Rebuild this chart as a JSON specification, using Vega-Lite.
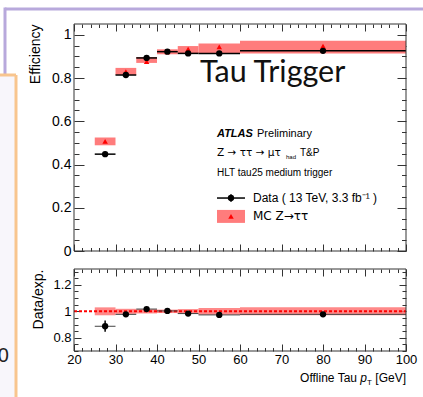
{
"$schema": "https://vega.github.io/schema/vega-lite/v6.json",
"width": 332,
"height": 327,
"autosize": "none",
"padding": {"left": 74, "top": 24, "right": 17, "bottom": 46},
"background": "#ffffff",
"datasets": {
 "bins": [
  {"lo":25,"hi":30,"x":27.5,"eff":0.448,"eff_lo":0.437,"eff_hi":0.459,"mc":0.507,"mc_lo":0.489,"mc_hi":0.525,"ratio":0.887,"r_lo":0.845,"r_hi":0.93,"band_lo":0.97,"band_hi":1.03},
  {"lo":30,"hi":35,"x":32.5,"eff":0.814,"eff_lo":0.807,"eff_hi":0.821,"mc":0.83,"mc_lo":0.814,"mc_hi":0.847,"ratio":0.977,"r_lo":0.967,"r_hi":0.987,"band_lo":0.981,"band_hi":1.019},
  {"lo":35,"hi":40,"x":37.5,"eff":0.893,"eff_lo":0.887,"eff_hi":0.899,"mc":0.876,"mc_lo":0.87,"mc_hi":0.897,"ratio":1.017,"r_lo":1.008,"r_hi":1.026,"band_lo":0.984,"band_hi":1.016},
  {"lo":40,"hi":45,"x":42.5,"eff":0.922,"eff_lo":0.917,"eff_hi":0.927,"mc":0.921,"mc_lo":0.91,"mc_hi":0.933,"ratio":1.003,"r_lo":0.995,"r_hi":1.011,"band_lo":0.987,"band_hi":1.013},
  {"lo":45,"hi":50,"x":47.5,"eff":0.914,"eff_lo":0.909,"eff_hi":0.919,"mc":0.934,"mc_lo":0.914,"mc_hi":0.948,"ratio":0.983,"r_lo":0.975,"r_hi":0.991,"band_lo":0.983,"band_hi":1.017},
  {"lo":50,"hi":60,"x":55,"eff":0.914,"eff_lo":0.91,"eff_hi":0.918,"mc":0.944,"mc_lo":0.914,"mc_hi":0.96,"ratio":0.973,"r_lo":0.967,"r_hi":0.979,"band_lo":0.975,"band_hi":1.025},
  {"lo":60,"hi":100,"x":80,"eff":0.926,"eff_lo":0.922,"eff_hi":0.93,"mc":0.948,"mc_lo":0.914,"mc_hi":0.973,"ratio":0.977,"r_lo":0.972,"r_hi":0.982,"band_lo":0.97,"band_hi":1.03}
 ]
},
"config": {
 "view": {"stroke": null},
 "font": "Liberation Sans",
 "axis": {"grid": false, "domain": false, "labelColor": "#000000", "titleColor": "#000000", "titleFontWeight": "normal", "tickColor": "#333333", "tickWidth": 1, "labelFont": "Liberation Sans", "titleFont": "Liberation Sans", "labelOverlap": false, "labelFlush": false, "labelBound": false}
},
"resolve": {"scale": {"y": "independent"}, "axis": {"x": "independent", "y": "independent"}},
"layer": [
 {
  "resolve": {"axis": {"x": "independent", "y": "independent"}},
  "layer": [
   {"data": {"values": [{}]}, "mark": {"type": "rect", "color": "#f8f6fb"},
    "encoding": {"x": {"datum": 1.687, "axis": null}, "x2": {"datum": 6.024}, "y": {"datum": 0.8141, "axis": null}, "y2": {"datum": -0.6892}}},
   {"data": {"values": [{}]}, "mark": {"type": "rule", "color": "#b8a9dc", "strokeWidth": 3},
    "encoding": {"x": {"datum": 3.373, "axis": null}, "x2": {"datum": 104.58}, "y": {"datum": 1.1194, "axis": null}}},
   {"data": {"values": [{}]}, "mark": {"type": "rule", "color": "#b8a9dc", "strokeWidth": 3},
    "encoding": {"x": {"datum": 3.373, "axis": null}, "y": {"datum": 1.1263, "axis": null}, "y2": {"datum": 0.8141}}},
   {"data": {"values": [{}]}, "mark": {"type": "rule", "color": "#f8c58e", "strokeWidth": 3},
    "encoding": {"x": {"datum": 1.687, "axis": null}, "x2": {"datum": 6.024}, "y": {"datum": 0.8141, "axis": null}}},
   {"data": {"values": [{}]}, "mark": {"type": "rule", "color": "#f8c58e", "strokeWidth": 3},
    "encoding": {"x": {"datum": 6.024, "axis": null}, "y": {"datum": 0.8141, "axis": null}, "y2": {"datum": -0.6892}}},
   {"data": {"values": [{}]}, "mark": {"type": "text", "text": "0", "align": "right", "baseline": "middle", "fontSize": 20, "font": "Liberation Sans", "color": "#222222"},
    "encoding": {"x": {"datum": 4.337, "axis": null}, "y": {"datum": -0.4857, "axis": null}}},
   {"data": {"name": "bins"}, "mark": {"type": "rect", "color": "#ff7c7c"},
    "encoding": {
     "x": {"field": "lo", "type": "quantitative", "scale": {"domain": [20, 100], "nice": false, "zero": false},
       "axis": {"orient": "bottom", "offset": -100, "labels": false, "title": null, "values": [20,22,24,26,28,30,32,34,36,38,40,42,44,46,48,50,52,54,56,58,60,62,64,66,68,70,72,74,76,78,80,82,84,86,88,90,92,94,96,98,100], "tickSize": {"condition": {"test": "datum.value % 10 === 0", "value": -7}, "value": -3.5}}},
     "x2": {"field": "hi"},
     "y": {"field": "mc_lo", "type": "quantitative", "scale": {"domain": [0, 1.05], "nice": false, "zero": false, "range": [227, 0]},
       "axis": {"orient": "left", "ticks": false, "values": [0, 0.2, 0.4, 0.6, 0.8, 1], "format": ".1~f", "labelFontSize": 14, "labelPadding": 3, "title": "Efficiency", "titleAnchor": "end", "titleFontSize": 14, "titlePadding": 9}},
     "y2": {"field": "mc_hi"}
    }},
   {"data": {"name": "bins"}, "mark": {"type": "point", "shape": "triangle-up", "filled": true, "color": "#ff0000", "size": 30, "opacity": 1},
    "encoding": {
     "x": {"field": "x", "type": "quantitative",
       "axis": {"orient": "top", "labels": false, "title": null, "values": [20,22,24,26,28,30,32,34,36,38,40,42,44,46,48,50,52,54,56,58,60,62,64,66,68,70,72,74,76,78,80,82,84,86,88,90,92,94,96,98,100], "tickSize": {"condition": {"test": "datum.value % 10 === 0", "value": -7}, "value": -3.5}}},
     "y": {"field": "mc", "type": "quantitative",
       "axis": {"orient": "left", "labels": false, "title": null, "values": [0,0.05,0.1,0.15,0.2,0.25,0.3,0.35,0.4,0.45,0.5,0.55,0.6,0.65,0.7,0.75,0.8,0.85,0.9,0.95,1], "tickSize": {"condition": {"test": "abs(datum.value * 5 - round(datum.value * 5)) < 0.001", "value": -10}, "value": -5}}}
    }},
   {"data": {"name": "bins"}, "mark": {"type": "rule", "color": "#000000", "strokeWidth": 1.5},
    "encoding": {
     "x": {"field": "lo", "type": "quantitative", "axis": null},
     "x2": {"field": "hi"},
     "y": {"field": "eff", "type": "quantitative",
       "axis": {"orient": "right", "labels": false, "title": null, "values": [0,0.05,0.1,0.15,0.2,0.25,0.3,0.35,0.4,0.45,0.5,0.55,0.6,0.65,0.7,0.75,0.8,0.85,0.9,0.95,1], "tickSize": {"condition": {"test": "abs(datum.value * 5 - round(datum.value * 5)) < 0.001", "value": -9}, "value": -4.5}}}
    }},
   {"data": {"name": "bins"}, "mark": {"type": "rule", "color": "#000000", "strokeWidth": 1.5},
    "encoding": {
     "x": {"field": "x", "type": "quantitative", "axis": null},
     "y": {"field": "eff_lo", "type": "quantitative", "axis": null},
     "y2": {"field": "eff_hi"}
    }},
   {"data": {"name": "bins"}, "mark": {"type": "point", "shape": "circle", "filled": true, "color": "#000000", "size": 40, "opacity": 1},
    "encoding": {
     "x": {"field": "x", "type": "quantitative", "axis": null},
     "y": {"field": "eff", "type": "quantitative", "axis": null}
    }},
   {"data": {"values": [{}]}, "mark": {"type": "rect", "filled": false, "color": "#333333", "strokeWidth": 1},
    "encoding": {"x": {"datum": 20, "axis": null}, "x2": {"datum": 100}, "y": {"datum": 0, "axis": null}, "y2": {"datum": 1.05}}},
   {"data": {"values": [{}]}, "mark": {"type": "rule", "color": "#000000", "strokeWidth": 1.5},
    "encoding": {"x": {"datum": 54.46, "axis": null}, "x2": {"datum": 61.2}, "y": {"datum": 0.245, "axis": null}}},
   {"data": {"values": [{}]}, "mark": {"type": "rule", "color": "#000000", "strokeWidth": 1.5},
    "encoding": {"x": {"datum": 57.83, "axis": null}, "y": {"datum": 0.228, "axis": null}, "y2": {"datum": 0.262}}},
   {"data": {"values": [{}]}, "mark": {"type": "point", "shape": "circle", "filled": true, "color": "#000000", "size": 40, "opacity": 1},
    "encoding": {"x": {"datum": 57.83, "axis": null}, "y": {"datum": 0.245, "axis": null}}},
   {"data": {"values": [{}]}, "mark": {"type": "rect", "color": "#ff7c7c"},
    "encoding": {"x": {"datum": 54.46, "axis": null}, "x2": {"datum": 61.2}, "y": {"datum": 0.13, "axis": null}, "y2": {"datum": 0.19}}},
   {"data": {"values": [{}]}, "mark": {"type": "point", "shape": "triangle-up", "filled": true, "color": "#ff0000", "size": 30, "opacity": 1},
    "encoding": {"x": {"datum": 57.83, "axis": null}, "y": {"datum": 0.16, "axis": null}}},
   {"data": {"values": [{}]}, "mark": {"type": "text", "text": "Data ( 13 TeV, 3.3 fb⁻¹ )", "align": "left", "baseline": "middle", "fontSize": 12, "font": "Liberation Sans", "color": "#000000"},
    "encoding": {"x": {"datum": 63.13, "axis": null}, "y": {"datum": 0.245, "axis": null}}},
   {"data": {"values": [{}]}, "mark": {"type": "text", "text": "MC Z→ττ", "align": "left", "baseline": "middle", "fontSize": 12, "font": "DejaVu Sans", "color": "#000000"},
    "encoding": {"x": {"datum": 63.13, "axis": null}, "y": {"datum": 0.16, "axis": null}}},
   {"data": {"values": [{}]}, "mark": {"type": "text", "text": "ATLAS", "align": "left", "baseline": "middle", "fontSize": 11, "fontWeight": "bold", "fontStyle": "italic", "font": "Liberation Sans", "color": "#000000"},
    "encoding": {"x": {"datum": 54.46, "axis": null}, "y": {"datum": 0.541, "axis": null}}},
   {"data": {"values": [{}]}, "mark": {"type": "text", "text": "Preliminary", "align": "left", "baseline": "middle", "fontSize": 11, "dx": 40, "font": "Liberation Sans", "color": "#000000"},
    "encoding": {"x": {"datum": 54.46, "axis": null}, "y": {"datum": 0.541, "axis": null}}},
   {"data": {"values": [{}]}, "mark": {"type": "text", "text": "Z → ττ → μτ", "align": "left", "baseline": "middle", "fontSize": 10.5, "font": "DejaVu Sans", "color": "#000000"},
    "encoding": {"x": {"datum": 54.46, "axis": null}, "y": {"datum": 0.453, "axis": null}}},
   {"data": {"values": [{}]}, "mark": {"type": "text", "text": "had", "align": "left", "baseline": "middle", "fontSize": 6, "dx": 69, "dy": 4, "font": "Liberation Sans", "color": "#000000"},
    "encoding": {"x": {"datum": 54.46, "axis": null}, "y": {"datum": 0.453, "axis": null}}},
   {"data": {"values": [{}]}, "mark": {"type": "text", "text": "T&P", "align": "left", "baseline": "middle", "fontSize": 10, "dx": 83, "font": "Liberation Sans", "color": "#000000"},
    "encoding": {"x": {"datum": 54.46, "axis": null}, "y": {"datum": 0.453, "axis": null}}},
   {"data": {"values": [{}]}, "mark": {"type": "text", "text": "HLT tau25 medium trigger", "align": "left", "baseline": "middle", "fontSize": 10, "font": "Liberation Sans", "color": "#000000"},
    "encoding": {"x": {"datum": 54.46, "axis": null}, "y": {"datum": 0.361, "axis": null}}},
   {"data": {"values": [{}]}, "mark": {"type": "text", "text": "Tau Trigger", "align": "left", "baseline": "alphabetic", "fontSize": 30.5, "font": "Lato", "color": "#111111"},
    "encoding": {"x": {"datum": 50.36, "axis": null}, "y": {"datum": 0.782, "axis": null}}}
  ]
 },
 {
  "resolve": {"axis": {"x": "independent", "y": "independent"}},
  "layer": [
   {"data": {"name": "bins"}, "mark": {"type": "rect", "color": "#ff6b6b", "opacity": 0.8},
    "encoding": {
     "x": {"field": "lo", "type": "quantitative", "scale": {"domain": [20, 100], "nice": false, "zero": false},
       "axis": {"orient": "bottom", "ticks": false, "values": [20, 30, 40, 50, 60, 70, 80, 90, 100], "format": "d", "labelFontSize": 13, "labelPadding": 2, "title": null}},
     "x2": {"field": "hi"},
     "y": {"field": "band_lo", "type": "quantitative", "scale": {"domain": [0.7, 1.32], "nice": false, "zero": false, "range": [327, 245]},
       "axis": {"orient": "left", "ticks": false, "values": [0.8, 1, 1.2], "format": ".1~f", "labelFontSize": 13, "labelPadding": 3, "title": "Data/exp.", "titleAnchor": "end", "titleFontSize": 14, "titlePadding": 7}},
     "y2": {"field": "band_hi"}
    }},
   {"data": {"values": [{}]}, "mark": {"type": "rule", "color": "#ff0000", "strokeWidth": 2, "strokeDash": [3, 2]},
    "encoding": {"x": {"datum": 20, "axis": null}, "x2": {"datum": 100}, "y": {"datum": 1, "axis": null}}},
   {"data": {"name": "bins"}, "mark": {"type": "rule", "color": "#444444", "strokeWidth": 1},
    "encoding": {
     "x": {"field": "lo", "type": "quantitative",
       "axis": {"orient": "bottom", "labels": false, "title": null, "values": [20,22,24,26,28,30,32,34,36,38,40,42,44,46,48,50,52,54,56,58,60,62,64,66,68,70,72,74,76,78,80,82,84,86,88,90,92,94,96,98,100], "tickSize": {"condition": {"test": "datum.value % 10 === 0", "value": -7}, "value": -3.5}}},
     "x2": {"field": "hi"},
     "y": {"field": "ratio", "type": "quantitative",
       "axis": {"orient": "left", "labels": false, "title": null, "values": [0.7,0.75,0.8,0.85,0.9,0.95,1,1.05,1.1,1.15,1.2,1.25,1.3], "tickSize": {"condition": {"test": "abs(datum.value * 5 - round(datum.value * 5)) < 0.001", "value": -7}, "value": -4}}}
    }},
   {"data": {"name": "bins"}, "mark": {"type": "rule", "color": "#000000", "strokeWidth": 1.5},
    "encoding": {
     "x": {"field": "x", "type": "quantitative", "axis": null},
     "y": {"field": "r_lo", "type": "quantitative", "axis": null},
     "y2": {"field": "r_hi"}
    }},
   {"data": {"name": "bins"}, "mark": {"type": "point", "shape": "circle", "filled": true, "color": "#000000", "size": 40, "opacity": 1},
    "encoding": {
     "x": {"field": "x", "type": "quantitative",
       "axis": {"orient": "top", "offset": -245, "labels": false, "title": null, "values": [20,22,24,26,28,30,32,34,36,38,40,42,44,46,48,50,52,54,56,58,60,62,64,66,68,70,72,74,76,78,80,82,84,86,88,90,92,94,96,98,100], "tickSize": {"condition": {"test": "datum.value % 10 === 0", "value": -7}, "value": -3.5}}},
     "y": {"field": "ratio", "type": "quantitative",
       "axis": {"orient": "right", "labels": false, "title": null, "values": [0.7,0.75,0.8,0.85,0.9,0.95,1,1.05,1.1,1.15,1.2,1.25,1.3], "tickSize": {"condition": {"test": "abs(datum.value * 5 - round(datum.value * 5)) < 0.001", "value": -7}, "value": -4}}}
    }},
   {"data": {"values": [{}]}, "mark": {"type": "rect", "filled": false, "color": "#333333", "strokeWidth": 1},
    "encoding": {"x": {"datum": 20, "axis": null}, "x2": {"datum": 100}, "y": {"datum": 0.7, "axis": null}, "y2": {"datum": 1.32}}},
   {"data": {"values": [{}]}, "mark": {"type": "text", "text": "[GeV]", "align": "right", "baseline": "alphabetic", "fontSize": 12, "font": "Liberation Sans", "color": "#000000"},
    "encoding": {"x": {"datum": 100, "axis": null}, "y": {"datum": 0.4656, "axis": null}}},
   {"data": {"values": [{}]}, "mark": {"type": "text", "text": "T", "align": "right", "baseline": "alphabetic", "fontSize": 8, "dx": -34, "dy": 3, "font": "Liberation Sans", "color": "#000000"},
    "encoding": {"x": {"datum": 100, "axis": null}, "y": {"datum": 0.4656, "axis": null}}},
   {"data": {"values": [{}]}, "mark": {"type": "text", "text": "p", "align": "right", "baseline": "alphabetic", "fontSize": 12, "fontStyle": "italic", "dx": -39, "font": "Liberation Sans", "color": "#000000"},
    "encoding": {"x": {"datum": 100, "axis": null}, "y": {"datum": 0.4656, "axis": null}}},
   {"data": {"values": [{}]}, "mark": {"type": "text", "text": "Offline Tau", "align": "right", "baseline": "alphabetic", "fontSize": 12, "dx": -49, "font": "Liberation Sans", "color": "#000000"},
    "encoding": {"x": {"datum": 100, "axis": null}, "y": {"datum": 0.4656, "axis": null}}}
  ]
 }
]
}
